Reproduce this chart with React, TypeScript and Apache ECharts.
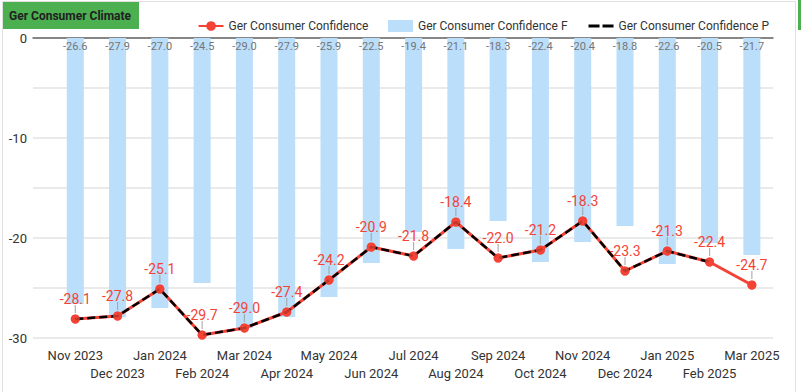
import React, { useEffect, useRef } from 'react';
import * as echarts from 'echarts';

const categories = [
  'Nov 2023', 'Dec 2023', 'Jan 2024', 'Feb 2024', 'Mar 2024', 'Apr 2024', 'May 2024', 'Jun 2024',
  'Jul 2024', 'Aug 2024', 'Sep 2024', 'Oct 2024', 'Nov 2024', 'Dec 2024', 'Jan 2025', 'Feb 2025', 'Mar 2025',
];
const confidence = [-28.1, -27.8, -25.1, -29.7, -29.0, -27.4, -24.2, -20.9, -21.8, -18.4, -22.0, -21.2, -18.3, -23.3, -21.3, -22.4, -24.7];
const forecast = [-26.6, -27.9, -27.0, -24.5, -29.0, -27.9, -25.9, -22.5, -19.4, -21.1, -18.3, -22.4, -20.4, -18.8, -22.6, -20.5, -21.7];
const projection = [-28.1, -27.8, -25.1, -29.7, -29.0, -27.4, -24.2, -20.9, -21.8, -18.4, -22.0, -21.2, -18.3, -23.3, -21.3, -22.4];
const yMin = -30;
const yMax = 0;
const yStep = 5;

const RED = '#F44336';
const BLUE = '#BBDEFB';
const FONT = 'Roboto, sans-serif';

export default function App() {
  const ref = useRef<HTMLDivElement>(null);
  useEffect(() => {
    document.body.style.margin = '0';
    const chart = echarts.init(ref.current!, null, { renderer: 'svg' });
    const pts = (arr: number[]) => arr.map((v, i) => [i, v]);
    chart.setOption({
      animation: false,
      textStyle: { fontFamily: FONT },
      graphic: [
        { type: 'rect', shape: { x: 2.5, y: 1.5, width: 793, height: 400 }, style: { fill: 'none', stroke: '#e0e0e0', lineWidth: 1 }, silent: true, z: -10 },
        { type: 'rect', shape: { x: 798, y: 0, width: 3, height: 30 }, style: { fill: '#4CAF50' }, silent: true },
        { type: 'rect', shape: { x: 3, y: 2, width: 136, height: 27 }, style: { fill: '#4CAF50' }, silent: true },
        { type: 'text', x: 9, y: 16, style: { text: 'Ger Consumer Climate', font: `bold 12px ${FONT}`, fill: '#212121', verticalAlign: 'middle' }, silent: true },
      ],
      legend: {
        top: 15,
        right: 27,
        itemWidth: 25,
        itemHeight: 12,
        itemGap: 19.5,
        textStyle: { fontSize: 12, color: '#333', fontFamily: FONT },
        data: [
          { name: 'Ger Consumer Confidence' },
          { name: 'Ger Consumer Confidence F', icon: 'rect' },
          { name: 'Ger Consumer Confidence P', itemStyle: { opacity: 0 }, lineStyle: { type: [11, 3], width: 3 } },
        ],
      },
      grid: { left: 33, right: 28, top: 38, bottom: 54 },
      xAxis: [
        {
          type: 'value',
          min: -1,
          max: 16.5,
          interval: 1,
          axisLine: { show: false },
          axisTick: { show: false },
          splitLine: { show: false },
          axisLabel: {
            showMaxLabel: false,
            margin: 8,
            fontSize: 13,
            color: '#333',
            lineHeight: 18,
            formatter: (v: number) => {
              if (v < 0 || v > categories.length - 1 || Math.round(v) !== v) return '';
              return v % 2 === 0 ? categories[v] : '\n' + categories[v];
            },
          },
        },
        {
          type: 'value',
          position: 'top',
          min: -1,
          max: 16.5,
          interval: 1,
          axisLine: { show: true, onZero: false, lineStyle: { color: '#666', width: 1.5 } },
          axisTick: { show: false },
          axisLabel: { show: false },
          splitLine: { show: false },
        },
      ],
      yAxis: {
        type: 'value',
        min: yMin,
        max: yMax,
        interval: yStep,
        axisLine: { show: false },
        axisTick: { show: false },
        splitLine: { lineStyle: { color: '#e3e3e3', width: 1.5 } },
        axisLabel: {
          margin: 6,
          fontSize: 13,
          color: '#333',
          formatter: (v: number) => (v % 10 === 0 ? String(v) : ''),
        },
      },
      series: [
        {
          name: 'Ger Consumer Confidence F',
          type: 'bar',
          data: pts(forecast),
          barWidth: 17,
          itemStyle: { color: BLUE },
          z: 1,
          label: {
            show: true,
            position: 'insideTop',
            distance: 3,
            fontSize: 11,
            fontFamily: '"Liberation Sans Narrow", Roboto, sans-serif',
            color: '#757575',
            formatter: (p: any) => p.value[1].toFixed(1),
          },
        },
        {
          name: 'leader',
          type: 'scatter',
          data: pts(confidence),
          symbol: 'rect',
          symbolSize: [1.2, 8],
          symbolOffset: [0, -10],
          itemStyle: { color: '#9e9e9e' },
          silent: true,
          z: 2,
        },
        {
          name: 'Ger Consumer Confidence',
          type: 'line',
          data: pts(confidence),
          symbol: 'circle',
          symbolSize: 9,
          lineStyle: { color: RED, width: 3 },
          itemStyle: { color: RED },
          z: 3,
          label: {
            show: true,
            position: 'top',
            distance: 9,
            fontSize: 14,
            color: RED,
            formatter: (p: any) => p.value[1].toFixed(1),
          },
        },
        {
          name: 'Ger Consumer Confidence P',
          type: 'line',
          data: pts(projection),
          showSymbol: false,
          symbol: 'none',
          lineStyle: { color: '#000', width: 2.5, type: [8, 4] },
          itemStyle: { color: '#000' },
          z: 4,
        },
        {
          name: 'dots',
          type: 'scatter',
          data: pts(confidence),
          symbol: 'circle',
          symbolSize: 9,
          itemStyle: { color: RED },
          silent: true,
          z: 5,
        },
      ],
    });
    return () => chart.dispose();
  }, []);
  return <div ref={ref} style={{ width: 801, height: 392 }} />;
}
